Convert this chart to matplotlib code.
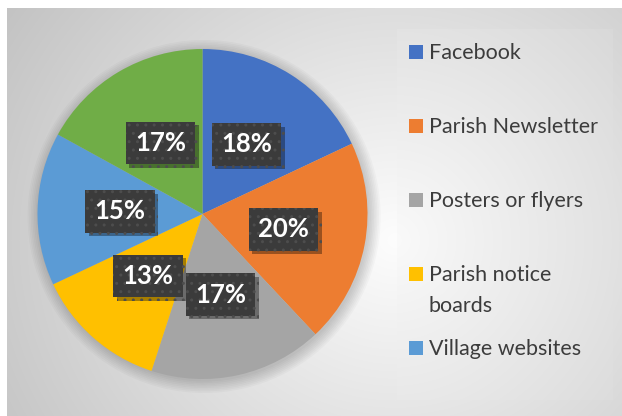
import numpy as np
import matplotlib
matplotlib.use('Agg')
import matplotlib.pyplot as plt
from matplotlib.patches import Rectangle, Circle
import matplotlib.patheffects as pe

categories = ["Facebook", "Parish Newsletter", "Posters or flyers",
              "Parish notice\nboards", "Village websites", "Other"]
values = [18, 20, 17, 13, 15, 17]
colors = ["#4472C4", "#ED7D31", "#A5A5A5", "#FFC000", "#5B9BD5", "#70AD47"]
legend_shown = 5  # legend is cut off after the fifth entry

plt.rcParams['font.family'] = ['Lato', 'DejaVu Sans']
plt.rcParams['hatch.linewidth'] = 1.0

W, H = 622, 416
fig = plt.figure(figsize=(W / 100, H / 100), dpi=100)
fig.patch.set_facecolor('white')


def px_axes(x0, y0, w, h, z=0):
    a = fig.add_axes([x0 / W, 1 - (y0 + h) / H, w / W, h / H])
    a.set_zorder(z)
    return a


# chart area background (radial grey gradient)
bg = px_axes(7, 8, W - 7, H - 8, z=0)
yy, xx = np.mgrid[8:H, 7:W].astype(float)
d = np.hypot(xx - 395, (yy - 240) * 1.1)
v = np.clip(253 - 0.125 * d, 0, 255) / 255
bg.imshow(np.dstack([v, v, v]), aspect='auto', interpolation='bilinear')
bg.axis('off')

# legend box background
lg = px_axes(397, 29, 215, 371, z=1)
yy, xx = np.mgrid[29:400, 397:612].astype(float)
d = np.hypot(xx - 392, (yy - 240) * 1.0)
v = np.clip(250 - 0.11 * d, 0, 255) / 255
lg.imshow(np.dstack([v, v, v]), aspect='auto', interpolation='bilinear')
lg.axis('off')

# pie
R = 165
cx, cy = 202.5, 214
ax = px_axes(cx - R * 1.15, cy - R * 1.15, 2 * R * 1.15, 2 * R * 1.15, z=2)

for i in range(8):
    ax.add_patch(Circle((0.01, -0.015), 1.0 + 0.01 * i, color='black',
                        alpha=0.025, linewidth=0, zorder=0))

wedges, texts, autotexts = ax.pie(
    values, colors=colors, startangle=90, counterclock=False,
    autopct='%.0f%%', pctdistance=0.5, radius=1,
    wedgeprops=dict(linewidth=0), frame=True)
ax.set_xlim(-1.15, 1.15)
ax.set_ylim(-1.15, 1.15)
ax.axis('off')

for at in autotexts:
    at.set_color('white')
    at.set_fontsize(18.5)
    at.set_fontweight('bold')
    at.set_bbox(dict(boxstyle='square,pad=0.36', facecolor='#3b3b3b',
                     edgecolor='#4d4d4d', linewidth=0, hatch='..'))
    at.get_bbox_patch().set_path_effects(
        [pe.SimplePatchShadow(offset=(2.5, -2.5), shadow_rgbFace='black', alpha=0.35),
         pe.Normal()])

# legend (drawn manually to match wrapping)
y0 = 52
step = 74
for i in range(legend_shown):
    yc = y0 + step * i
    fig.add_artist(Rectangle((409 / W, 1 - (yc + 7) / H), 14 / W, 14 / H,
                             transform=fig.transFigure, facecolor=colors[i],
                             edgecolor='none', zorder=5))
    for j, line in enumerate(categories[i].split('\n')):
        fig.text(429 / W, 1 - (yc + 7 + 31 * j) / H, line, fontsize=15.5,
                 color='#3c3c3c', va='baseline', ha='left', zorder=6)

fig.savefig('out.png', dpi=100)
